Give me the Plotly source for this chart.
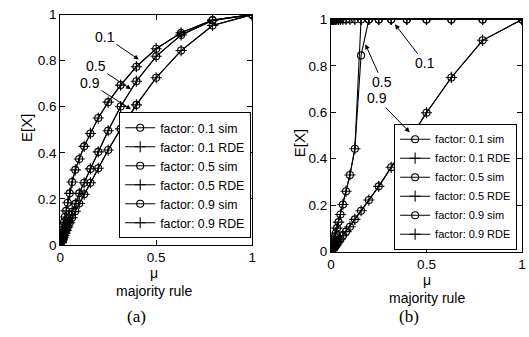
import plotly.graph_objects as go

# mu values (geometric spacing)
mu = [1.0, 0.7937, 0.63, 0.5, 0.3969, 0.315, 0.25, 0.1984, 0.1575, 0.125,
      0.0992, 0.0787, 0.0625, 0.0496, 0.0394, 0.03125, 0.0248, 0.0197,
      0.0156, 0.0124, 0.0098, 0.0078, 0.0062, 0.0049, 0.0039]

# panel (a)
a_01 = [1.0, 0.977, 0.921, 0.852, 0.774, 0.694, 0.62, 0.551, 0.484, 0.428,
        0.373, 0.326, 0.273, 0.224, 0.183, 0.148, 0.121, 0.099, 0.081,
        0.066, 0.054, 0.044, 0.036, 0.03, 0.024]
a_05 = [1.0, 0.975, 0.912, 0.819, 0.711, 0.601, 0.496, 0.404, 0.33, 0.27,
        0.224, 0.178, 0.144, 0.117, 0.095, 0.077, 0.062, 0.05, 0.041,
        0.033, 0.027, 0.022, 0.018, 0.014, 0.012]
a_09 = [1.0, 0.953, 0.844, 0.726, 0.608, 0.504, 0.412, 0.333, 0.27, 0.22,
        0.18, 0.146, 0.118, 0.096, 0.078, 0.063, 0.051, 0.041, 0.033,
        0.027, 0.022, 0.018, 0.014, 0.011, 0.009]

# panel (b)
b_01 = [1.0] * 25
b_05_sim = [1.0, 1.0, 1.0, 1.0, 1.0, 1.0, 1.0, 1.0, 0.845, 0.443,
            0.33, 0.26, 0.203, 0.16, 0.127, 0.101, 0.08, 0.063, 0.05,
            0.04, 0.032, 0.025, 0.02, 0.016, 0.013]
b_05_rde = [1.0, 1.0, 1.0, 1.0, 1.0, 1.0, 1.0, 1.0, 1.0, 0.443,
            0.33, 0.26, 0.203, 0.16, 0.127, 0.101, 0.08, 0.063, 0.05,
            0.04, 0.032, 0.025, 0.02, 0.016, 0.013]
b_09 = [1.0, 0.91, 0.75, 0.598, 0.466, 0.363, 0.281, 0.222, 0.176, 0.139,
        0.107, 0.086, 0.068, 0.054, 0.043, 0.034, 0.027, 0.021, 0.017,
        0.013, 0.011, 0.0085, 0.0067, 0.0053, 0.0042]

labels = ["factor: 0.1 sim", "factor: 0.1 RDE", "factor: 0.5 sim",
          "factor: 0.5 RDE", "factor: 0.9 sim", "factor: 0.9 RDE"]

FONT = "Liberation Sans, Arial, sans-serif"
SERIF = "Liberation Serif, Times New Roman, serif"
W, H = 529, 337

fig = go.Figure()

def add_series(ys, xa, ya, leg):
    for i, y in enumerate(ys):
        sim = (i % 2 == 0)
        fig.add_trace(go.Scatter(
            x=mu, y=y, xaxis=xa, yaxis=ya, legend=leg, name=labels[i],
            mode="lines+markers",
            line=dict(color="black", width=1.1),
            marker=dict(symbol="circle-open" if sim else "cross-thin-open",
                        size=7 if sim else 8, color="black",
                        line=dict(color="black", width=1.1)),
        ))

add_series([a_01, a_01, a_05, a_05, a_09, a_09], "x", "y", "legend")
add_series([b_01, b_01, b_05_sim, b_05_rde, b_09, b_09], "x2", "y2", "legend2")

def px_x(p):
    return p / W

def px_y(p):
    return 1 - p / H

axis_common = dict(showline=True, linecolor="black", linewidth=1, mirror="ticks",
                   ticks="inside", ticklen=5, tickcolor="black", showgrid=False,
                   zeroline=False, tickfont=dict(family=FONT, size=13.5, color="black"))

fig.update_layout(
    width=W, height=H, margin=dict(l=0, r=0, t=0, b=0),
    paper_bgcolor="white", plot_bgcolor="white",
    font=dict(family=FONT, color="black"),
    xaxis=dict(domain=[px_x(57), px_x(252)], range=[0, 1], anchor="y",
               tickvals=[0, 0.5, 1], ticktext=["0", "0.5", "1"], **axis_common),
    yaxis=dict(domain=[px_y(249), px_y(8)], range=[0, 1], anchor="x",
               tickvals=[0, 0.2, 0.4, 0.6, 0.8, 1],
               ticktext=["0", "0.2", "0.4", "0.6", "0.8", "1"], **axis_common),
    xaxis2=dict(domain=[px_x(332), px_x(526)], range=[0, 1], anchor="y2",
                tickvals=[0, 0.5, 1], ticktext=["0", "0.5", "1"], **axis_common),
    yaxis2=dict(domain=[px_y(256), px_y(13)], range=[0, 1], anchor="x2",
                tickvals=[0, 0.2, 0.4, 0.6, 0.8, 1],
                ticktext=["0", "0.2", "0.4", "0.6", "0.8", "1"], **axis_common),
    legend=dict(x=px_x(251), y=px_y(242), xanchor="right", yanchor="bottom",
                bgcolor="white", bordercolor="black", borderwidth=1,
                font=dict(family=FONT, size=12.3, color="black"),
                itemwidth=30, tracegroupgap=0),
    legend2=dict(x=px_x(521), y=px_y(254), xanchor="right", yanchor="bottom",
                 bgcolor="white", bordercolor="black", borderwidth=1,
                 font=dict(family=FONT, size=11, color="black"),
                 itemwidth=30, tracegroupgap=0),
    showlegend=True,
)

ann = []
def arrow(text, x, y, ax, ay, xr, yr):
    ann.append(dict(text=text, x=x, y=y, ax=ax, ay=ay, xref=xr, yref=yr,
                    showarrow=True, arrowhead=2, arrowsize=1, arrowwidth=1,
                    arrowcolor="black", font=dict(family=FONT, size=14, color="black")))

arrow("0.1", 0.41, 0.805, -34, -23, "x", "y")
arrow("0.5", 0.369, 0.676, -35, -23, "x", "y")
arrow("0.9", 0.369, 0.589, -41, -26, "x", "y")
arrow("0.1", 0.335, 0.979, 30, 39, "x2", "y2")
arrow("0.5", 0.18, 0.893, 17, 38, "x2", "y2")
arrow("0.9", 0.412, 0.514, -33, -34, "x2", "y2")

def text(t, xp, yp, size=15, angle=0, family=FONT, yanchor="middle", pad=1):
    ann.append(dict(text=t, x=px_x(xp), y=px_y(yp), xref="paper", yref="paper",
                    showarrow=False, textangle=angle, xanchor="center", yanchor=yanchor,
                    borderpad=pad,
                    font=dict(family=family, size=size, color="black")))

text("E[X]", 23, 127, angle=-90)
text("E[X]", 300, 142, angle=-90)
text("μ<br>majority rule", 152, 269, size=14, yanchor="top", pad=0)
text("μ<br>majority rule", 430, 276, size=14, yanchor="top", pad=0)
text("(a)", 135, 324, size=17, family=SERIF)
text("(b)", 411, 324, size=17, family=SERIF)

fig.update_layout(annotations=ann)
fig.write_html("out.html")
